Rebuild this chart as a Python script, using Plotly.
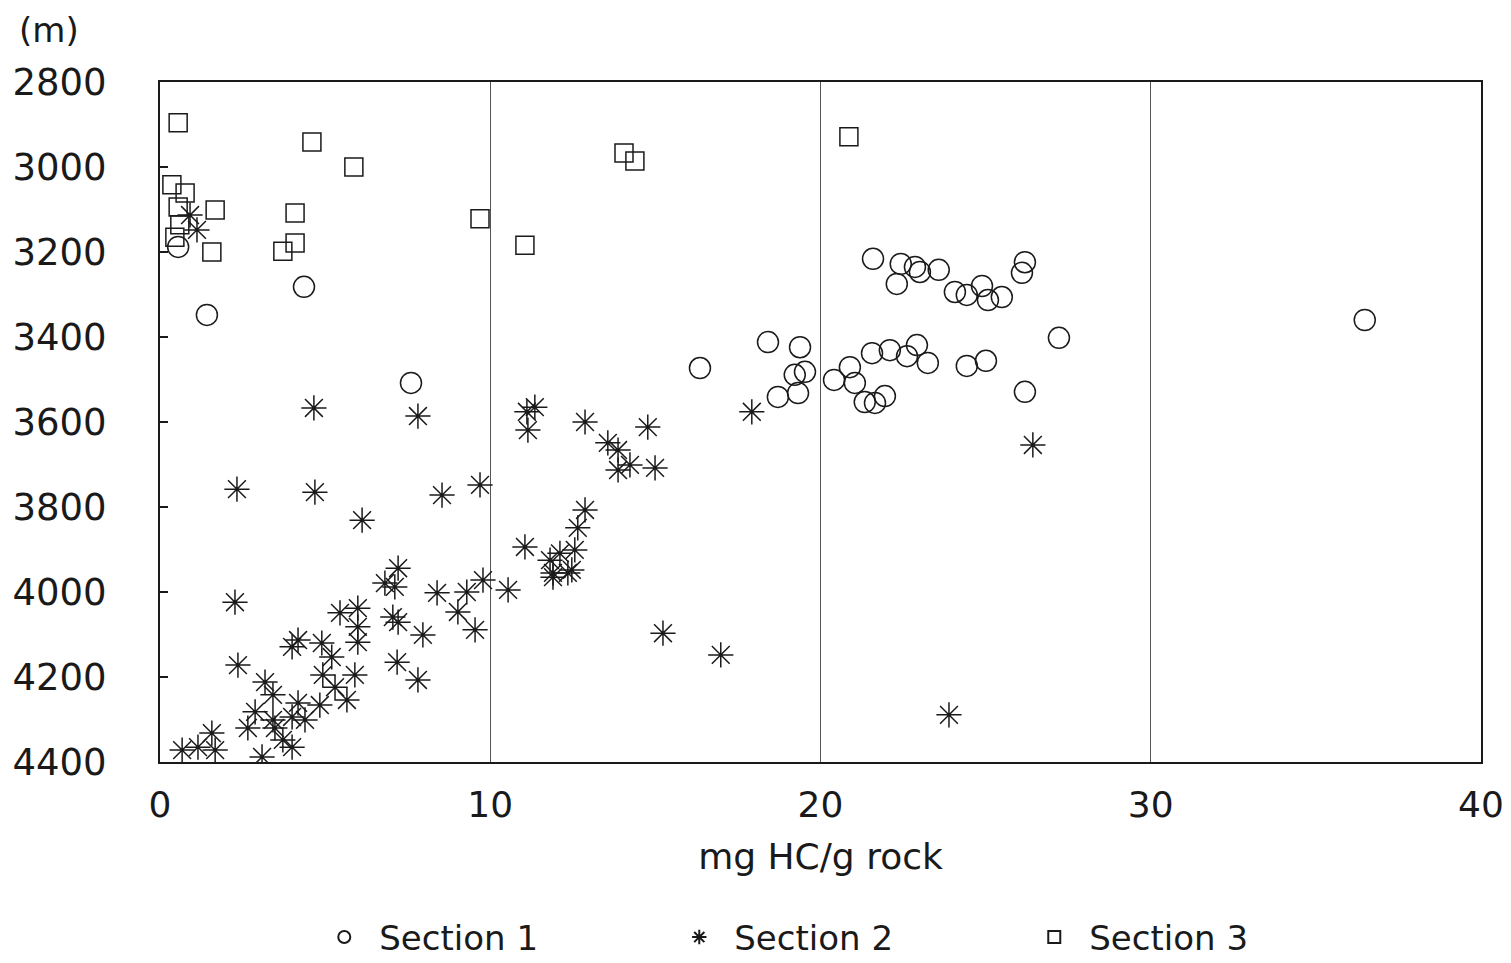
import plotly.graph_objects as go

# Section 1 (circles)
s1_x = [0.55, 4.36, 1.42, 7.60, 16.35, 18.41, 19.38, 19.22, 19.53, 18.71, 19.32,
        21.59, 22.43, 22.86, 23.01, 22.31, 23.58, 24.07, 24.43, 24.89, 25.07, 25.49,
        26.19, 26.10, 27.22, 20.41, 20.89, 21.04, 21.34, 21.65, 21.95, 21.56, 22.10,
        22.62, 22.92, 23.25, 24.43, 25.01, 26.19, 36.48]
s1_y = [3188, 3282, 3348, 3508, 3473, 3412, 3424, 3489, 3482, 3541, 3532,
        3216, 3228, 3235, 3247, 3275, 3242, 3294, 3301, 3280, 3313, 3306,
        3224, 3249, 3402, 3501, 3471, 3508, 3553, 3555, 3539, 3438, 3431,
        3445, 3419, 3461, 3468, 3456, 3529, 3360]

# Section 2 (asterisks)
s2_x = [4.66, 7.81, 2.33, 4.69, 6.12, 8.54, 9.69,
        2.27, 2.36, 7.21, 6.81, 7.11, 8.39, 9.29, 9.78, 9.02, 9.54, 5.45, 5.99, 5.99,
        5.99, 7.05, 7.21, 7.96, 7.18, 7.81, 4.18, 4.00, 4.90, 5.20, 4.93, 5.30, 5.90,
        5.66, 3.18, 3.42, 4.18, 4.84, 2.88, 2.66, 3.42, 3.48, 4.00, 4.39, 3.72, 4.00,
        3.09, 0.67, 1.57, 1.67, 1.15, 0.91, 1.12,
        11.35, 11.11, 11.14, 12.87, 14.77, 13.56, 13.87, 14.23, 13.87, 14.99, 17.92,
        12.87, 12.65, 11.05, 12.56, 12.11, 11.81, 12.47, 11.90,
        10.54, 11.90, 12.35, 15.23, 16.98, 26.43, 23.89]
s2_y = [3567, 3586, 3758, 3765, 3831, 3772, 3748,
        4024, 4172, 3944, 3979, 3988, 4002, 4000, 3972, 4047, 4089, 4049, 4038, 4082,
        4118, 4059, 4071, 4101, 4165, 4207, 4113, 4129, 4120, 4153, 4195, 4224, 4195,
        4254, 4212, 4242, 4261, 4266, 4282, 4320, 4301, 4320, 4294, 4301, 4348, 4365,
        4388, 4372, 4332, 4372, 4365, 3113, 3148,
        3565, 3576, 3619, 3600, 3612, 3649, 3666, 3701, 3713, 3708, 3576,
        3807, 3849, 3894, 3901, 3909, 3925, 3948, 3955,
        3995, 3965, 3955, 4097, 4148, 3654, 4289]

# Section 3 (squares)
s3_x = [0.55, 4.60, 5.87, 0.36, 0.76, 0.55, 1.67, 4.09, 9.69, 1.57, 4.09, 3.72,
        11.05, 14.05, 14.38, 20.86, 0.45, 0.60]
s3_y = [2896, 2941, 3000, 3042, 3061, 3094, 3101, 3108, 3122, 3200, 3179, 3198,
        3184, 2967, 2986, 2929, 3165, 3136]

x_ticks = [0, 10, 20, 30, 40]
y_ticks = [2800, 3000, 3200, 3400, 3600, 3800, 4000, 4200, 4400]

FONT = "DejaVu Sans"
INK = "#1a1a1a"

fig = go.Figure()
fig.add_trace(go.Scatter(x=s1_x, y=s1_y, mode="markers", name="Section 1",
                         marker=dict(symbol="circle-open", size=21, color=INK,
                                     line=dict(width=1.5, color=INK))))
fig.add_trace(go.Scatter(x=s2_x, y=s2_y, mode="markers", name="Section 2",
                         marker=dict(symbol="asterisk-open", size=21, color=INK,
                                     line=dict(width=1.5, color=INK))))
fig.add_trace(go.Scatter(x=s3_x, y=s3_y, mode="markers", name="Section 3",
                         marker=dict(symbol="square-open", size=18, color=INK,
                                     line=dict(width=1.5, color=INK))))

fig.update_layout(
    width=1511, height=963,
    margin=dict(l=160, r=30, t=82, b=201, autoexpand=False),
    paper_bgcolor="white", plot_bgcolor="white",
    font=dict(family=FONT, size=34, color=INK),
    showlegend=True,
    legend=dict(orientation="h", x=0.113, xanchor="left", y=-0.258, yanchor="middle",
                entrywidth=280, entrywidthmode="pixels", itemwidth=60,
                font=dict(family=FONT, size=34, color=INK),
                itemsizing="constant", bgcolor="rgba(0,0,0,0)"),
    xaxis=dict(range=[0, 40], tickvals=x_ticks, ticktext=[str(v) for v in x_ticks],
               showgrid=True, gridcolor="#555", gridwidth=1, zeroline=False,
               showline=True, linecolor=INK, linewidth=2, mirror=True,
               ticks="", tickfont=dict(family=FONT, size=36, color=INK),
               ticklabelstandoff=10,
               title=dict(text="mg HC/g rock", font=dict(family=FONT, size=36, color=INK),
                          standoff=20)),
    yaxis=dict(range=[4400, 2800], tickvals=y_ticks, ticktext=[str(v) for v in y_ticks],
               showgrid=False, zeroline=False,
               showline=True, linecolor=INK, linewidth=2, mirror=True,
               ticks="inside", ticklen=8, tickcolor=INK, tickwidth=1.5,
               tickfont=dict(family=FONT, size=37, color=INK),
               ticklabelstandoff=44),
    annotations=[dict(text="(m)", xref="paper", yref="paper", x=-0.108, y=1.076,
                      xanchor="left", yanchor="middle", showarrow=False,
                      font=dict(family=FONT, size=34, color=INK))],
)

fig.write_html("out.html")
